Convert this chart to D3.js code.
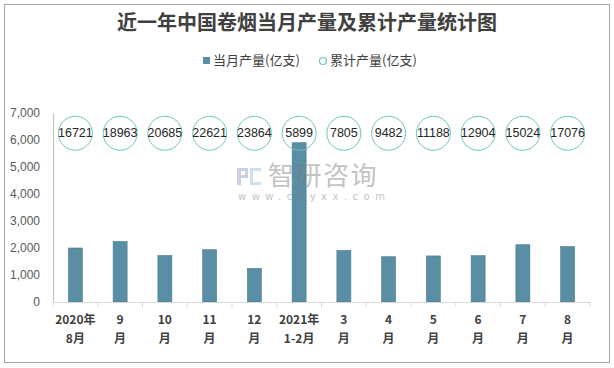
<!DOCTYPE html>
<html><head><meta charset="utf-8">
<script src="https://cdn.jsdelivr.net/npm/d3@7/dist/d3.min.js"></script>
<style>body{margin:0;background:#fff}svg{display:block}</style>
</head><body><svg id="c" width="614" height="368"></svg>
<script>
const titleText = "近一年中国卷烟当月产量及累计产量统计图";
const categoriesLine1 = ["2020年","9","10","11","12","2021年","3","4","5","6","7","8"];
const categoriesLine2 = ["8月","月","月","月","月","1-2月","月","月","月","月","月","月"];
const monthly = [2000, 2242, 1722, 1936, 1243, 5899, 1906, 1677, 1706, 1716, 2120, 2052];
const cumulative = [16721, 18963, 20685, 22621, 23864, 5899, 7805, 9482, 11188, 12904, 15024, 17076];
const yTicks = [0,1000,2000,3000,4000,5000,6000,7000];
const seriesNames = ["当月产量(亿支)", "累计产量(亿支)"];

const svg = d3.select("#c");
const font = "'Noto Sans CJK SC', 'Noto Sans', sans-serif";
svg.append("rect").attr("x",4.5).attr("y",4.5).attr("width",605).attr("height",358)
  .attr("fill","#fff").attr("stroke","#a6a6a6").attr("stroke-width",1);

svg.append("text").attr("x",307).attr("y",25).attr("text-anchor","middle")
  .attr("dominant-baseline","middle").attr("font-family",font).attr("font-weight","bold")
  .attr("font-size",20).attr("fill","#404040").text(titleText);

const x = d3.scaleBand().domain(d3.range(monthly.length)).range([53,590]).paddingInner(0).paddingOuter(0);
const y = d3.scaleLinear().domain([0,7000]).range([302,113]);

// y axis
const yAxis = svg.append("g").attr("transform","translate(53,0)")
  .call(d3.axisLeft(y).tickValues(yTicks).tickSize(0).tickPadding(13).tickFormat(d3.format(",")));
yAxis.select(".domain").attr("stroke","#bfbfbf");
yAxis.selectAll("text").attr("font-family","'Liberation Sans', Arial, sans-serif").attr("font-size",12).attr("fill","#595959");

// bars
svg.append("g").selectAll("rect").data(monthly).join("rect")
  .attr("x",(d,i)=>x(i)+x.bandwidth()/2-7).attr("width",14)
  .attr("y",d=>y(d)).attr("height",d=>y(0)-y(d))
  .attr("fill","#5a8ea5").attr("stroke","#4a7a90").attr("stroke-width",0.6);

// watermark (over the plot, semi-transparent)
const wm = svg.append("g").attr("opacity",0.45);
wm.append("path").attr("d","M237,168h11v10h-7v7h-4z M241,171v4h4v-4z").attr("fill","#8d99c4").attr("fill-rule","evenodd");
wm.append("path").attr("d","M250,168h11v3h-8v11h8v3h-11z").attr("fill","#8fbfe6");
wm.append("text").attr("x",268).attr("y",178).attr("dominant-baseline","middle")
  .attr("font-family",font).attr("font-size",26).attr("fill","#7a7a7a").attr("letter-spacing",1.5).text("智研咨询");
wm.append("text").attr("x",238).attr("y",197).attr("dominant-baseline","middle")
  .attr("font-family","'DejaVu Sans', sans-serif").attr("font-size",10).attr("fill","#7a7a7a").attr("letter-spacing",5.5).text("www.chyxx.com");

// x axis
const xAxis = svg.append("g").attr("transform","translate(0,302)")
  .call(d3.axisBottom(x).tickSize(0).tickFormat(""));
xAxis.select(".domain").attr("stroke","#d9d9d9");
const bounds = d3.range(monthly.length+1).map(i=>53+i*x.step());
svg.append("g").selectAll("line").data(bounds).join("line")
  .attr("x1",d=>d).attr("x2",d=>d).attr("y1",302).attr("y2",307).attr("stroke","#d9d9d9");

const xl = svg.append("g").attr("font-family",font).attr("font-weight","bold").attr("font-size",12).attr("fill","#404040").attr("text-anchor","middle");
xl.selectAll(".l1").data(categoriesLine1).join("text").attr("class","l1")
  .attr("x",(d,i)=>x(i)+x.bandwidth()/2).attr("y",321).attr("dominant-baseline","middle").text(d=>d);
xl.selectAll(".l2").data(categoriesLine2).join("text").attr("class","l2")
  .attr("x",(d,i)=>x(i)+x.bandwidth()/2).attr("y",340).attr("dominant-baseline","middle").text(d=>d);

// cumulative circles
const labelRow = 6250;
const cg = svg.append("g");
cg.selectAll("circle").data(cumulative).join("circle")
  .attr("cx",(d,i)=>x(i)+x.bandwidth()/2).attr("cy",y(labelRow)).attr("r",17)
  .attr("fill","none").attr("stroke","#6cc5c0").attr("stroke-width",1);
cg.selectAll("text").data(cumulative).join("text")
  .attr("x",(d,i)=>x(i)+x.bandwidth()/2).attr("y",y(labelRow)).attr("text-anchor","middle")
  .attr("dominant-baseline","middle").attr("font-family","'Liberation Sans', Arial, sans-serif")
  .attr("font-size",12.5).attr("fill","#262626").text(d=>d);

// legend
const lg = svg.append("g").attr("font-family",font).attr("font-size",13).attr("fill","#404040");
lg.append("rect").attr("x",203).attr("y",57).attr("width",7).attr("height",7).attr("fill","#5a8ea5");
lg.append("text").attr("x",213).attr("y",61).attr("dominant-baseline","middle").text(seriesNames[0]);
lg.append("circle").attr("cx",323).attr("cy",61).attr("r",3.5).attr("fill","none").attr("stroke","#6cc5c0").attr("stroke-width",1.2);
lg.append("text").attr("x",330).attr("y",61).attr("dominant-baseline","middle").text(seriesNames[1]);
</script></body></html>
